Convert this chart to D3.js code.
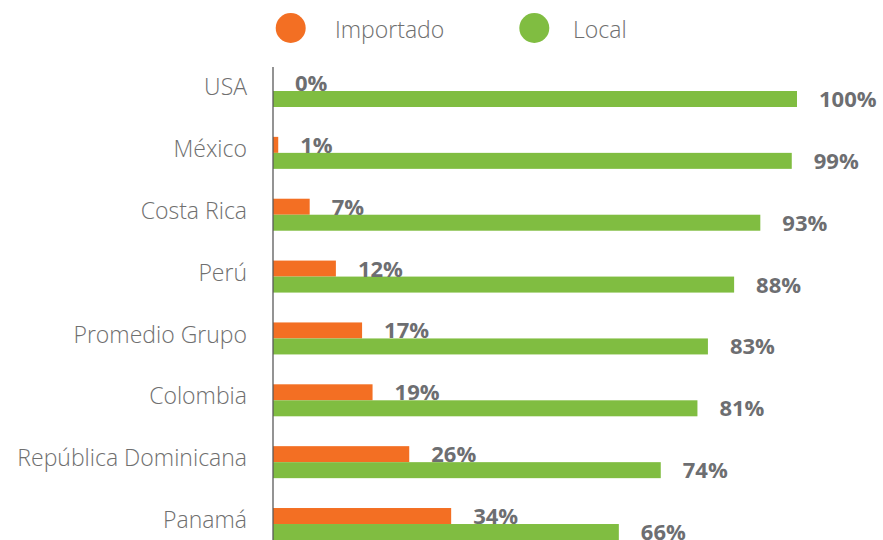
<!DOCTYPE html>
<html>
<head>
<meta charset="utf-8">
<script src="https://cdn.jsdelivr.net/npm/d3@7"></script>
<style>
  html, body { margin: 0; padding: 0; background: #ffffff; }
  svg { display: block; }
</style>
</head>
<body>
<script>
// Origen de los productos por país (porcentaje)
const categories = ["USA", "México", "Costa Rica", "Perú", "Promedio Grupo", "Colombia", "República Dominicana", "Panamá"];
const seriesNames = ["Importado", "Local"];
const importado = [0, 1, 7, 12, 17, 19, 26, 34];
const local = [100, 99, 93, 88, 83, 81, 74, 66];
const colors = ["#F36F23", "#80BD41"];

const W = 883, H = 540;
const svg = d3.select("body").append("svg").attr("width", W).attr("height", H);

const x = d3.scaleLinear().domain([0, 100]).range([273, 797]);
const y = d3.scaleBand().domain(categories).range([60.07, 60.07 + 8 * 61.86]).padding(0);
const sub = d3.scaleBand().domain(seriesNames).range([-16, 16]).padding(0);

const rows = categories.map((c, i) => ({ cat: c, values: [importado[i], local[i]] }));

// Barras
const g = svg.append("g");
seriesNames.forEach((s, si) => {
  g.selectAll(".bar-" + si)
    .data(rows)
    .join("rect")
    .attr("x", x(0))
    .attr("y", d => y(d.cat) + y.bandwidth() / 2 + sub(s))
    .attr("width", d => x(d.values[si]) - x(0))
    .attr("height", sub.bandwidth())
    .attr("fill", colors[si]);
});

// Etiquetas de valor
seriesNames.forEach((s, si) => {
  g.selectAll(".lbl-" + si)
    .data(rows)
    .join("text")
    .attr("x", d => x(d.values[si]) + 22)
    .attr("y", d => y(d.cat) + y.bandwidth() / 2 + sub(s) + sub.bandwidth() / 2)
    .attr("dy", "0.36em")
    .attr("font-family", "'Open Sans', sans-serif")
    .attr("font-weight", 700)
    .attr("font-size", 22)
    .attr("fill", "#6D6E71")
    .text(d => d.values[si] + "%");
});

// Eje vertical
svg.append("line")
  .attr("x1", x(0)).attr("x2", x(0))
  .attr("y1", 67).attr("y2", 560)
  .attr("stroke", "#595959").attr("stroke-width", 1.3);

// Etiquetas de categoría
const yAxis = d3.axisLeft(y).tickSize(0).tickPadding(26);
const ax = svg.append("g").attr("transform", `translate(${x(0)},0)`).call(yAxis);
ax.select(".domain").remove();
ax.selectAll("text")
  .attr("font-family", "'Open Sans', sans-serif")
  .attr("font-weight", 300)
  .attr("font-size", 23)
  .attr("fill", "#6F6F6F")
  .attr("dy", "0.18em");

// Leyenda
const legendCx = [290.7, 534.3];
const legendTx = [335, 573];
const legend = svg.append("g");
seriesNames.forEach((s, si) => {
  legend.append("circle")
    .attr("cx", legendCx[si]).attr("cy", 28).attr("r", 15)
    .attr("fill", colors[si]);
  legend.append("text")
    .attr("x", legendTx[si]).attr("y", 38)
    .attr("font-family", "'Open Sans', sans-serif")
    .attr("font-weight", 300)
    .attr("font-size", 23)
    .attr("fill", "#6F6F6F")
    .text(s);
});
</script>
</body>
</html>
